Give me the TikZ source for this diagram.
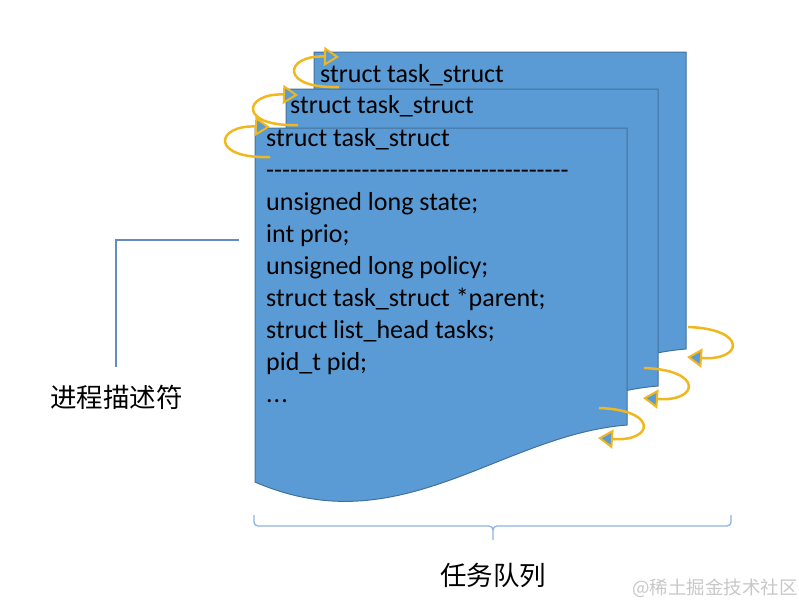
\documentclass[tikz,border=0pt]{standalone}
\usepackage{fontspec}
\setmainfont{Carlito}
\newfontfamily\cjk{Noto Sans CJK SC}
\usetikzlibrary{arrows.meta}
\definecolor{docblue}{RGB}{91,155,213}
\definecolor{docedge}{RGB}{65,113,156}
\definecolor{goldline}{RGB}{240,184,30}
\definecolor{linkblue}{RGB}{100,140,195}
\definecolor{bracecol}{RGB}{140,180,222}
\definecolor{wmgray}{RGB}{200,200,200}
\newcommand\dashrow{\foreach\i in {1,...,38}{-\kern0pt}}
\begin{document}
\begin{tikzpicture}[x=1pt,y=1pt,
  docshape/.style={fill=docblue,draw=docedge,line width=1pt},
  codetext/.style={anchor=base west,inner sep=0pt,font=\fontsize{26}{32}\selectfont,text=black},
  cjktext/.style={inner sep=0pt,font=\cjk\fontsize{26.5}{30}\selectfont,text=black},
  looparrow/.style={draw=goldline,line width=2.5pt,
    -{Triangle[length=15pt,width=19pt,line width=2pt,fill=docblue]}},
  linkline/.style={draw=linkblue,line width=1.2pt},
  braceline/.style={draw=bracecol,line width=1.3pt},
  docsheet/.pic={\path[docshape] (0,0) -- (372,0) -- (372,-297)
      .. controls (245,-307) and (145,-417) .. (0,-354) -- cycle;},
  tlloop/.pic={\draw[looparrow] (0,0) .. controls (-60,-2) and (-55,32) .. (0,30);},
  brloop/.pic={\draw[looparrow] (0,0) .. controls (60,-2) and (55,-34) .. (-1,-30);}
]
\useasboundingbox (0,0) rectangle (799,-614);

% back sheet
\pic at (314,-52) {docsheet};
\node[codetext] (b1) at (320,-82) {struct task\_struct};
% middle sheet
\pic at (286,-89) {docsheet};
\node[codetext] (m1) at (290,-113) {struct task\_struct};
% front sheet
\pic at (255,-128) {docsheet};
\node[codetext] (f1) at (266,-146) {struct task\_struct};
\node[codetext] (f2) at (266,-178) {\dashrow};
\node[codetext] (f3) at (266,-210) {unsigned long state;};
\node[codetext] (f4) at (266,-242) {int prio;};
\node[codetext] (f5) at (266,-274) {unsigned long policy;};
\node[codetext] (f6) at (266,-306) {struct task\_struct *parent;};
\node[codetext] (f7) at (266,-338) {struct list\_head tasks;};
\node[codetext] (f8) at (266,-370) {pid\_t pid;};
\node[codetext] (f9) at (266,-402) {.\kern1pt.\kern1pt.};

% loop arrows
\pic at (339,-87) {tlloop};
\pic at (298,-125) {tlloop};
\pic at (270,-157) {tlloop};
\pic at (688,-327) {brloop};
\pic at (644,-368) {brloop};
\pic at (599,-408) {brloop};

% descriptor label and connector
\node[cjktext,anchor=west] (desc) at (50,-397) {进程描述符};
\coordinate (lblTop) at (116,-367);
\coordinate (docPoint) at (239,-240);
\draw[linkline] (docPoint) -| (lblTop);

% queue brace and label
\coordinate (brL) at (254,-515);
\coordinate (brR) at (731,-515);
\coordinate (brM) at (493,-540);
\draw[braceline] (brL) -- ++(0,-7) to[out=-90,in=180] ++(4,-4) -- (489,-526)
   to[out=0,in=90] (493,-530) -- (brM);
\draw[braceline] (brR) -- ++(0,-7) to[out=-90,in=0] ++(-4,-4) -- (497,-526)
   to[out=180,in=90] (493,-530);
\node[cjktext] (queue) at (493,-575) {任务队列};

% watermark
\node[inner sep=0pt,anchor=west,text=wmgray,font=\cjk\fontsize{18.5}{20}\selectfont] (wm) at (632,-588) {@稀土掘金技术社区};
\end{tikzpicture}
\end{document}
